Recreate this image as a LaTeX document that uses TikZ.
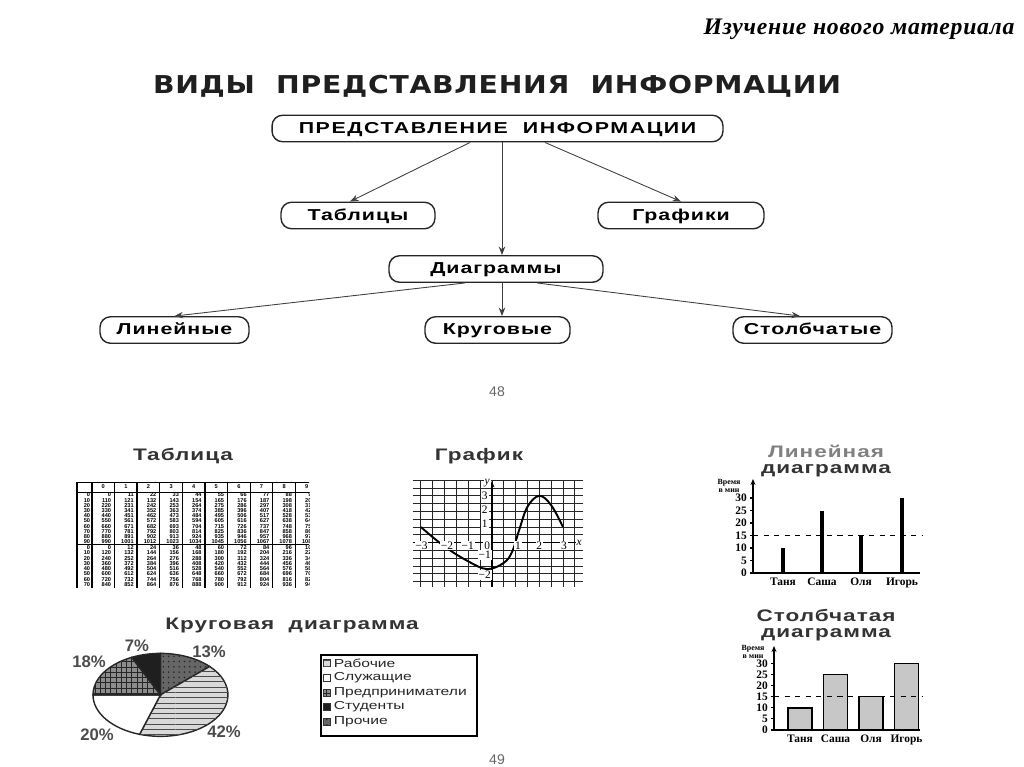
\documentclass[tikz,border=0pt]{standalone}
\usepackage{fontspec}
\setmainfont{Liberation Serif}
\setsansfont{Liberation Sans}
\newfontfamily\heavyfont[FakeStretch=1.15]{DejaVu Sans}
\newfontfamily\widesans[FakeStretch=1.35]{Liberation Sans}
\usetikzlibrary{arrows.meta,positioning,patterns}

\newcommand\boxfont{\widesans\bfseries\fontsize{9}{10}\selectfont\addfontfeature{LetterSpace=6}}
\newcommand\ttlfont{\widesans\bfseries\fontsize{9.5}{8.8}\selectfont\addfontfeature{LetterSpace=6}}
\newcommand\tinyfont{\rmfamily\bfseries\fontsize{6.5}{7}\selectfont}

\begin{document}
\begin{tikzpicture}[
    x=0.02cm, y=-0.02cm,
    box/.style={draw=black!85, line width=0.8pt, rounded corners=6pt,
                minimum height=0.53cm, inner sep=0pt, text height=0.72em, text depth=0.2em,
                font=\boxfont},
    arr/.style={-{Stealth[length=1.7mm,width=1.3mm]}, draw=black!75, line width=0.5pt},
    ttl/.style={font=\ttlfont, text=black!80, align=center, inner sep=0pt},
    pnum/.style={font=\sffamily\fontsize{8}{9}\selectfont, text=black!60},
    tick/.style={font=\tinyfont, inner sep=1pt},
    who/.style={font=\rmfamily\bfseries\fontsize{6.5}{7}\selectfont, inner sep=1pt},
    axlab/.style={font=\rmfamily\bfseries\fontsize{4.5}{4.6}\selectfont, align=center, inner sep=0pt},
    cell/.style={font=\sffamily\bfseries\fontsize{3.2}{3.4}\selectfont, inner sep=0.3pt},
    gl/.style={font=\rmfamily\fontsize{6.5}{7}\selectfont, fill=white, inner sep=0.5pt},
    pct/.style={font=\sffamily\bfseries\fontsize{9.5}{10}\selectfont, text=black!70},
    legtxt/.style={font=\widesans\fontsize{6.6}{7.5}\selectfont, text=black!85, inner sep=0pt},
    sw/.style={draw=black!80, line width=0.4pt, minimum size=0.14cm, inner sep=0pt},
    s42/.style={fill=black!15, postaction={pattern=horizontal lines, pattern color=black!70}},
    s20/.style={fill=white},
    s18/.style={fill=black!45, postaction={pattern=grid, pattern color=black!85}},
    s7/.style={fill=black!88},
    s13/.style={fill=black!60, postaction={pattern=dots, pattern color=black!85}},
    barf/.style={draw=black, line width=0.9pt, fill=black!22}]

  % frame of the page
  \useasboundingbox (0,0) rectangle (1024,767);

  % header
  \node[font=\rmfamily\bfseries\itshape\fontsize{13.5}{15}\selectfont\addfontfeature{LetterSpace=3}]
    (hdr) at (859,29) {Изучение нового материала};
  \node[font=\heavyfont\bfseries\fontsize{14}{17}\selectfont\addfontfeature{LetterSpace=3}, text=black!88]
    (title) at (497,86) {ВИДЫ\ \ ПРЕДСТАВЛЕНИЯ\ \ ИНФОРМАЦИИ};

  % scheme
  \node[box, minimum width=9.02cm, font=\boxfont\addfontfeature{LetterSpace=10}]
    (root) at (497.5,128.5) {ПРЕДСТАВЛЕНИЕ\ \ ИНФОРМАЦИИ};
  \node[box, minimum width=3.08cm] (tab)  at (358,215.5) {Таблицы};
  \node[box, minimum width=3.32cm] (graf) at (681,215.5) {Графики};
  \node[box, minimum width=4.28cm] (diag) at (496,269) {Диаграммы};
  \node[box, minimum width=2.98cm] (lin)  at (174.5,330) {Линейные};
  \node[box, minimum width=2.90cm] (krug) at (497.5,330) {Круговые};
  \node[box, minimum width=3.18cm] (stolb) at (812.5,330) {Столбчатые};
  \draw[arr] ([xshift=-0.55cm]root.south) -- ([xshift=-0.16cm]tab.north);
  \draw[arr] ([xshift=0.09cm]root.south) -- ([xshift=0.09cm]root.south |- diag.north);
  \draw[arr] ([xshift=0.95cm]root.south) -- (graf.north);
  \draw[arr] ([xshift=-0.62cm]diag.south) -- (lin.north);
  \draw[arr] ([xshift=0.12cm]diag.south) -- ([xshift=0.12cm]diag.south |- krug.north);
  \draw[arr] ([xshift=0.82cm]diag.south) -- ([xshift=-0.25cm]stolb.north);
  \node[pnum] (p48) at (497,392) {48};

  % table
  \node[ttl] (tabt) at (183,456) {Таблица};
  \begin{scope}
    \clip (70,478) rectangle (309,592);
    \foreach \yy in {482,492,544}
      \draw[line width=0.5pt] (77,\yy) -- (320,\yy);
    \foreach \k in {0,...,10}
      \draw[line width=0.45pt] ({92+22.6*\k},482) -- ({92+22.6*\k},588);
    \foreach \xx in {77,92,137.2,205,295.4}
      \draw[line width=0.9pt] (\xx,482) -- (\xx,588);
    \foreach \c in {0,...,9}
      \node[cell] (h\c) at ({103.3+22.6*\c},487) {\c};
    \foreach \r in {0,...,9} {
      \pgfmathtruncatemacro\rl{10*\r}
      \node[cell, anchor=east] (ru\r) at (91,{495+5.2*\r}) {\rl};
      \foreach \c in {0,...,9} {
        \pgfmathtruncatemacro\vv{11*(10*\r+\c)}
        \node[cell, anchor=east] (u\r\c) at ({112+22.6*\c},{495+5.2*\r}) {\vv};
      }
    }
    \foreach \r in {0,...,7} {
      \pgfmathtruncatemacro\rl{10*\r}
      \node[cell, anchor=east] (rl\r) at (91,{547.5+5.3*\r}) {\rl};
      \foreach \c in {0,...,9} {
        \pgfmathtruncatemacro\vv{12*(10*\r+\c)}
        \node[cell, anchor=east] (l\r\c) at ({112+22.6*\c},{547.5+5.3*\r}) {\vv};
      }
    }
  \end{scope}

  % function graph
  \node[ttl] (graft) at (479,456) {График};
  \begin{scope}[xshift=9.84cm, yshift=-10.854cm, x=0.474cm, y=0.312cm]
    \draw[line width=0.4pt, black!85] (-3.35,-2.82) grid[xstep=0.5, ystep=0.5] (3.84,4.02);
    \draw[line width=0.7pt, -{Stealth[length=1.3mm,width=1mm]}] (-3.35,0) -- (3.84,0);
    \draw[line width=0.7pt, -{Stealth[length=1.3mm,width=1mm]}] (0,-2.82) -- (0,3.95);
    \draw[line width=1.1pt] plot[smooth, tension=0.6] coordinates
      {(-3,1) (-2,-0.25) (-1,-1.2) (-0.2,-1.7) (0.5,-1.3) (0.85,-0.6) (1.15,0.8)
       (1.5,2.3) (2,3) (2.5,2.4) (3,1)};
    \foreach \xv/\xl in {-2.97/−3, -1.9/−2, -1.02/−1, -0.2/0, 1.1/1, 2/2, 3.04/3}
      \node[gl] (gx\xl) at (\xv,-0.2) {\xl};
    \node[gl, font=\rmfamily\itshape\fontsize{6.5}{7}\selectfont] (gxx) at (3.68,-0.05) {x};
    \foreach \yv/\yl in {3/3, 2.1/2, 1.2/1, -0.8/−1, -2.07/−2}
      \node[gl] (gy\yl) at (-0.3,\yv) {\yl};
    \node[gl, font=\rmfamily\itshape\fontsize{6.5}{7}\selectfont] (gyy) at (-0.2,3.8) {y};
  \end{scope}

  % line diagram
  \node[ttl] (lint) at (826,461) {{\color{black!50}Линейная}\\диаграмма};
  \node[axlab] (lvr) at (729,486) {Время\\в мин};
  \draw[line width=0.8pt] (753,573) -- (920,573);
  \draw[line width=0.8pt, -{Stealth[length=1.2mm,width=1mm]}] (753,573) -- (753,479);
  \foreach \v in {0,5,...,30} {
    \draw[line width=0.6pt] (750,{573-2.5*\v}) -- (753,{573-2.5*\v});
    \node[tick, anchor=east] (lt\v) at (749,{573-2.5*\v}) {\v};
  }
  \draw[dashed, line width=0.6pt] (753,535.5) -- (922,535.5);
  \foreach \nm/\xx/\val in {Таня/783/10, Саша/822/25, Оля/861/15, Игорь/902/30} {
    \draw[line width=2.2pt] (\xx,573) -- (\xx,{573-2.5*\val});
    \node[who, anchor=north] (lw\xx) at (\xx,576) {\nm};
  }

  % bar diagram
  \node[ttl] (stt) at (826,625) {Столбчатая\\диаграмма};
  \node[axlab] (svr) at (753,652) {Время\\в мин};
  \foreach \nm/\xx/\val in {Таня/800/10, Саша/835.5/25, Оля/871/15, Игорь/906.5/30} {
    \draw[barf] ({\xx-12},730) rectangle ({\xx+12},{730-2.22*\val});
    \node[who, anchor=north] (sw\xx) at (\xx,733) {\nm};
  }
  \draw[dashed, line width=0.6pt] (774,696.7) -- (923,696.7);
  \draw[line width=0.8pt] (774,730) -- (920,730);
  \draw[line width=0.8pt, -{Stealth[length=1.2mm,width=1mm]}] (774,730) -- (774,646);
  \foreach \v in {0,5,...,30} {
    \draw[line width=0.6pt] (771,{730-2.22*\v}) -- (774,{730-2.22*\v});
    \node[tick, anchor=east] (st\v) at (770,{730-2.22*\v}) {\v};
  }

  % pie diagram
  \node[ttl] (krugt) at (292,625) {Круговая\ \ диаграмма};
  \begin{scope}[xshift=3.21cm, yshift=-13.9cm, x=1.35cm, y=0.83cm, draw=black!85, line width=0.8pt]
    \filldraw[s13] (0,0) -- (90:1) arc[start angle=90, end angle=43.2, x radius=1.35cm, y radius=0.83cm] -- cycle;
    \filldraw[s42] (0,0) -- (43.2:1) arc[start angle=43.2, end angle=-108, x radius=1.35cm, y radius=0.83cm] -- cycle;
    \filldraw[s20] (0,0) -- (-108:1) arc[start angle=-108, end angle=-180, x radius=1.35cm, y radius=0.83cm] -- cycle;
    \filldraw[s18] (0,0) -- (180:1) arc[start angle=180, end angle=115.2, x radius=1.35cm, y radius=0.83cm] -- cycle;
    \filldraw[s7] (0,0) -- (115.2:1) arc[start angle=115.2, end angle=90, x radius=1.35cm, y radius=0.83cm] -- cycle;
  \end{scope}
  \node[pct] (pc7)  at (137,646) {7\%};
  \node[pct] (pc13) at (209,652) {13\%};
  \node[pct] (pc18) at (89,662) {18\%};
  \node[pct] (pc20) at (97,735) {20\%};
  \node[pct] (pc42) at (224,732) {42\%};

  % legend
  \draw[line width=0.7pt] (321,655) rectangle (477,736);
  \node[sw, s42] (q1) at (327,663) {};
  \node[sw, s20] (q2) at (327,678) {};
  \node[sw, s18] (q3) at (327,692.5) {};
  \node[sw, s7]  (q4) at (327,707) {};
  \node[sw, s13] (q5) at (327,721.5) {};
  \node[legtxt, right=1.5pt of q1] (t1) {Рабочие};
  \node[legtxt, right=1.5pt of q2] (t2) {Служащие};
  \node[legtxt, right=1.5pt of q3] (t3) {Предприниматели};
  \node[legtxt, right=1.5pt of q4] (t4) {Студенты};
  \node[legtxt, right=1.5pt of q5] (t5) {Прочие};
  \node[pnum] (p49) at (497,760) {49};
\end{tikzpicture}
\end{document}
